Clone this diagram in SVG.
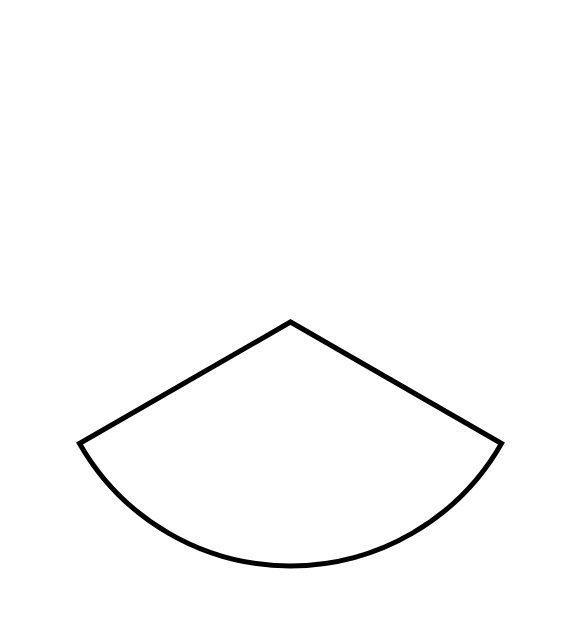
<svg xmlns="http://www.w3.org/2000/svg" width="585" height="640" viewBox="0 0 585 640">
<style>.s{fill:#fff;stroke:#000;stroke-width:5;stroke-linejoin:miter}</style>
<rect width="585" height="640" fill="#fff"/>
<g id="sector">
<path class="s" d="M290.5 322 L79.5 443.5 A243 243 0 0 0 501.5 443.5 Z"/>
</g>
</svg>
